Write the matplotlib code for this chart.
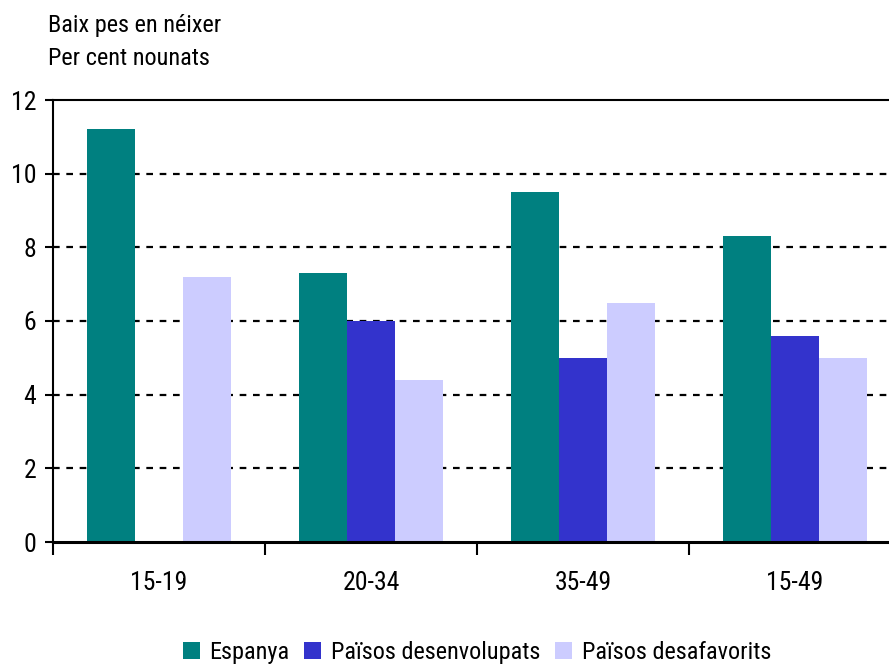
import numpy as np
import matplotlib
matplotlib.use("Agg")
import matplotlib.pyplot as plt
from matplotlib.patches import Patch

# Low birth weight, percentage of newborns, by mother's age group
age_groups = ["15-19", "20-34", "35-49", "15-49"]
espanya = [11.2, 7.3, 9.5, 8.3]
desenvolupats = [np.nan, 6.0, 5.0, 5.6]
desafavorits = [7.2, 4.4, 6.5, 5.0]
series_names = ["Espanya", "Països desenvolupats", "Països desafavorits"]
colors = ["#008080", "#3333CC", "#CCCCFF"]
y_ticks = [0, 2, 4, 6, 8, 10, 12]

plt.rcParams["font.family"] = ["Roboto Condensed", "Liberation Sans", "DejaVu Sans"]

fig = plt.figure(figsize=(8.89, 6.65), dpi=100)
ax = fig.add_axes([53 / 889, 123 / 665, 848 / 889, 442 / 665])

x = np.arange(len(age_groups))
w = 0.225
for i, (vals, c) in enumerate(zip([espanya, desenvolupats, desafavorits], colors)):
    ax.bar(x + (i - 1) * w, vals, width=w, color=c, zorder=3)

ax.set_xlim(-0.5, len(age_groups) - 0.5)
ax.set_ylim(0, 12)
ax.set_yticks(y_ticks)
ax.set_yticklabels([str(t) for t in y_ticks], fontsize=18.5)

# category labels centred, ticks on the group boundaries
ax.set_xticks(np.arange(len(age_groups) + 1) - 0.5)
ax.set_xticklabels([])
ax.set_xticks(x, minor=True)
ax.set_xticklabels(age_groups, minor=True, fontsize=18.5)
ax.tick_params(axis="x", which="minor", length=0, pad=21)
ax.tick_params(axis="x", which="major", length=9, width=1.5, direction="out")
ax.tick_params(axis="y", length=6, width=1.5, direction="out", pad=6)

for t in y_ticks[1:-1]:
    ax.axhline(t, color="black", lw=1.6, ls=(0, (3, 3)), zorder=1)

ax.spines["right"].set_visible(False)
ax.spines["left"].set_linewidth(1.5)
ax.spines["top"].set_linewidth(1.5)
ax.spines["bottom"].set_linewidth(2.2)
ax.spines["bottom"].set_zorder(4)

fig.text(48 / 889, 1 - 32 / 665, "Baix pes en néixer", fontsize=17.5, ha="left", va="baseline")
fig.text(48 / 889, 1 - 65 / 665, "Per cent nounats", fontsize=17.5, ha="left", va="baseline")

handles = [Patch(facecolor=c, edgecolor="none") for c in colors]
ax.legend(handles, series_names, loc="center", bbox_to_anchor=(0.5, -0.249), ncol=3,
          frameon=False, fontsize=17.5, handlelength=0.7, handleheight=0.7,
          handletextpad=0.4, columnspacing=0.6, borderaxespad=0)

fig.savefig("out.png", dpi=100)
